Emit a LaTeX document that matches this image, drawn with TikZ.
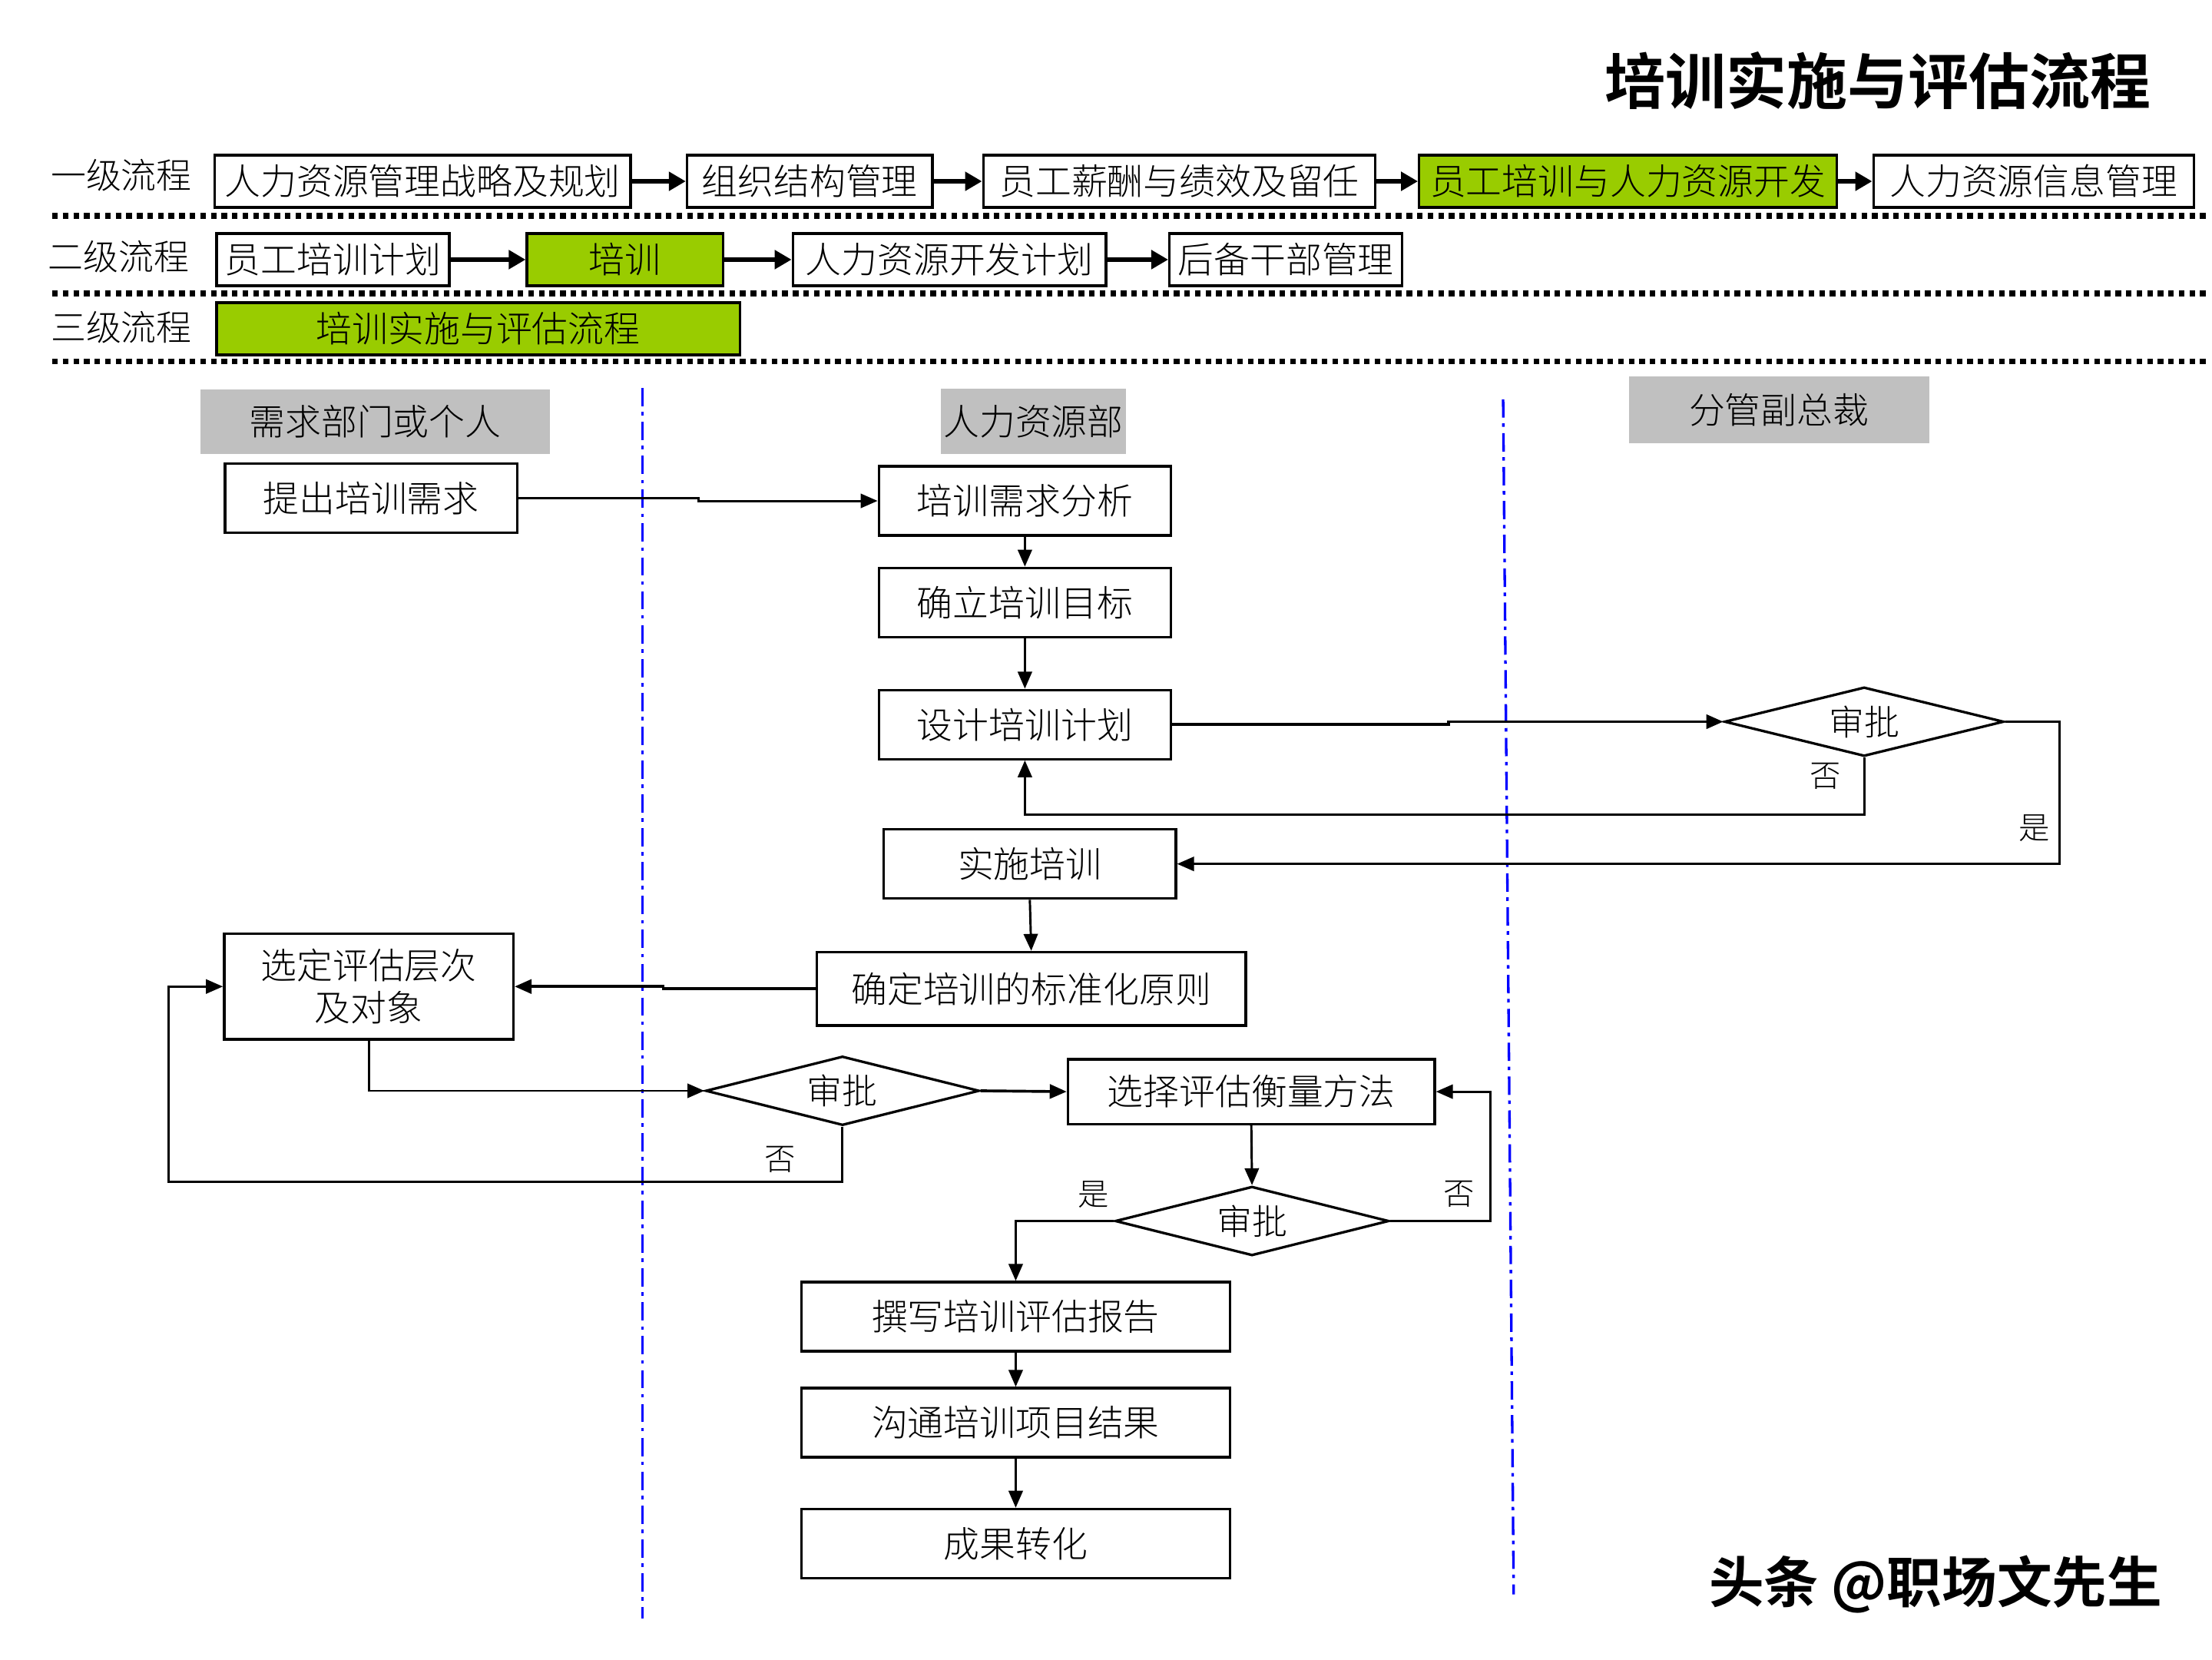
\documentclass[tikz,border=0pt]{standalone}
\usepackage{fontspec}
\setmainfont{Noto Sans CJK SC}[UprightFont=* Light,BoldFont=* Bold]
\usetikzlibrary{arrows.meta}
\usetikzlibrary{shapes.geometric}

\definecolor{lvgreen}{RGB}{153,204,0}
\definecolor{lanegray}{RGB}{192,192,192}

\begin{document}
\begin{tikzpicture}[x=1pt,y=-1pt,
	box/.style={draw,line width=1.8pt,inner sep=0pt,font=\fontsize{25.5}{30}\selectfont},
	hilite/.style={fill=lvgreen},
	rowlab/.style={inner sep=0pt,font=\fontsize{25}{30}\selectfont},
	lanehead/.style={fill=lanegray,inner sep=0pt,font=\fontsize{25.5}{30}\selectfont},
	decide/.style={draw,shape=diamond,aspect=4,inner sep=0pt,line width=1.8pt,font=\fontsize{25}{30}\selectfont},
	yn/.style={inner sep=0pt,font=\fontsize{22}{24}\selectfont},
	toparrow/.style={line width=3pt,-{Triangle[length=12pt,width=13pt]}},
	flow/.style={line width=1.6pt,-{Triangle[length=12pt,width=10pt]}},
	dotrule/.style={line width=4pt,dash pattern=on 4pt off 3.5pt},
	lane/.style={blue,line width=1.8pt,dash pattern=on 13pt off 4pt on 2.5pt off 4.5pt}]
	\useasboundingbox (0,0) rectangle (1568,1176);

	\node[font=\fontsize{43}{48}\selectfont\bfseries] (title) at (1331,57) {培训实施与评估流程};

	\node[rowlab] (r1) at (86,124) {一级流程};
	\node[rowlab] (r2) at (84,182) {二级流程};
	\node[rowlab] (r3) at (86,232) {三级流程};

	\node[box,minimum width=295pt,minimum height=37pt] (l1a) at (299.5,128.5) {人力资源管理战略及规划};
	\node[box,minimum width=174pt,minimum height=37pt] (l1b) at (574,128.5) {组织结构管理};
	\node[box,minimum width=278pt,minimum height=37pt] (l1c) at (836,128.5) {员工薪酬与绩效及留任};
	\node[box,hilite,minimum width=296pt,minimum height=37pt] (l1d) at (1154,128.5) {员工培训与人力资源开发};
	\node[box,minimum width=227pt,minimum height=37pt] (l1e) at (1441.5,128.5) {人力资源信息管理};
	\draw[toparrow] (l1a) -- (l1b);
	\draw[toparrow] (l1b) -- (l1c);
	\draw[toparrow] (l1c) -- (l1d);
	\draw[toparrow] (l1d) -- (l1e);

	\node[box,minimum width=165pt,minimum height=37pt] (l2a) at (236,184) {员工培训计划};
	\node[box,hilite,minimum width=139pt,minimum height=37pt] (l2b) at (443,184) {培训};
	\node[box,minimum width=222pt,minimum height=37pt] (l2c) at (673,184) {人力资源开发计划};
	\node[box,minimum width=165pt,minimum height=37pt] (l2d) at (911.5,184) {后备干部管理};
	\draw[toparrow] (l2a) -- (l2b);
	\draw[toparrow] (l2b) -- (l2c);
	\draw[toparrow] (l2c) -- (l2d);

	\node[box,hilite,minimum width=371pt,minimum height=37pt] (l3a) at (339,233) {培训实施与评估流程};

	\foreach \y in {153,208,256}
		\draw[dotrule] (37,\y) -- (1566,\y);

	\node[lanehead,minimum width=248pt,minimum height=46pt] (h1) at (266,299) {需求部门或个人};
	\node[lanehead,minimum width=131pt,minimum height=46pt] (h2) at (732.5,298.5) {人力资源部};
	\node[lanehead,minimum width=213pt,minimum height=47pt] (h3) at (1261,290.5) {分管副总裁};

	\draw[lane] (455.5,275) -- (455.5,1147);
	\draw[lane] (1065.5,283) -- (1073,1130);

	\node[box,minimum width=207pt,minimum height=49pt] (tcxq) at (263,353) {提出培训需求};
	\node[box,minimum width=207pt,minimum height=49pt] (xqfx) at (726.5,355) {培训需求分析};
	\node[box,minimum width=207pt,minimum height=49pt] (mbiao) at (726.5,427) {确立培训目标};
	\node[box,minimum width=207pt,minimum height=49pt] (sjjh) at (726.5,513.5) {设计培训计划};
	\node[decide,minimum width=198pt,minimum height=49pt] (sp1) at (1321.4,511.5) {审批};
	\node[box,minimum width=207pt,minimum height=49pt] (sspx) at (730,612.3) {实施培训};
	\node[box,minimum width=304pt,minimum height=52pt] (yuanze) at (731,700.8) {确定培训的标准化原则};
	\node[box,align=center,minimum width=205pt,minimum height=75pt] (cengci) at (261.4,699.2) {选定评估层次\\及对象};
	\node[decide,minimum width=194pt,minimum height=49pt] (sp2) at (597.2,773.1) {审批};
	\node[box,minimum width=260pt,minimum height=46pt] (ff) at (887,773.7) {选择评估衡量方法};
	\node[decide,minimum width=194pt,minimum height=49pt] (sp3) at (887.5,865.4) {审批};
	\node[box,minimum width=304pt,minimum height=49pt] (bg) at (720,933.2) {撰写培训评估报告};
	\node[box,minimum width=304pt,minimum height=49pt] (gt) at (720,1008.3) {沟通培训项目结果};
	\node[box,minimum width=304pt,minimum height=49pt] (zh) at (720,1094) {成果转化};

	\node[yn] (n1) at (1294,550) {否};
	\node[yn] (y1) at (1442,587) {是};
	\node[yn] (n2) at (553,821.6) {否};
	\node[yn] (y3) at (775.3,846.5) {是};
	\node[yn] (n3) at (1034,846.5) {否};

	\draw[flow] (tcxq.east) -- ++(128,0) |- (xqfx.west);
	\draw[flow] (xqfx) -- (mbiao);
	\draw[flow] (mbiao) -- (sjjh);
	\draw[flow,line width=2pt] (sjjh.east) -- ++(196,0) |- (sp1.west);
	\draw[flow] (sp1.south) -- ++(0,40.6) -| (sjjh.south);
	\draw[flow] (sp1.east) -- ++(38.6,0) |- (sspx.east);
	\draw[flow] (sspx.south) -- (yuanze.north);
	\draw[flow,line width=2pt] (yuanze.west) -- ++(-108,0) |- (cengci.east);
	\draw[flow] (cengci.south) |- (sp2.west);
	\draw[flow,line width=2pt] (sp2.east) -- (ff.west);
	\draw[flow] (sp2.south) -- ++(0,39.1) -- ++(-477.7,0) |- (cengci.west);
	\draw[flow] (ff.south) -- (sp3.north);
	\draw[flow] (sp3.west) -| (bg.north);
	\draw[flow] (sp3.east) -- ++(70.9,0) |- (ff.east);
	\draw[flow] (bg) -- (gt);
	\draw[flow] (gt) -- (zh);

	\node[font=\fontsize{39}{43}\selectfont\bfseries] (wm) at (1372,1123) {头条 @职场文先生};
\end{tikzpicture}
\end{document}
